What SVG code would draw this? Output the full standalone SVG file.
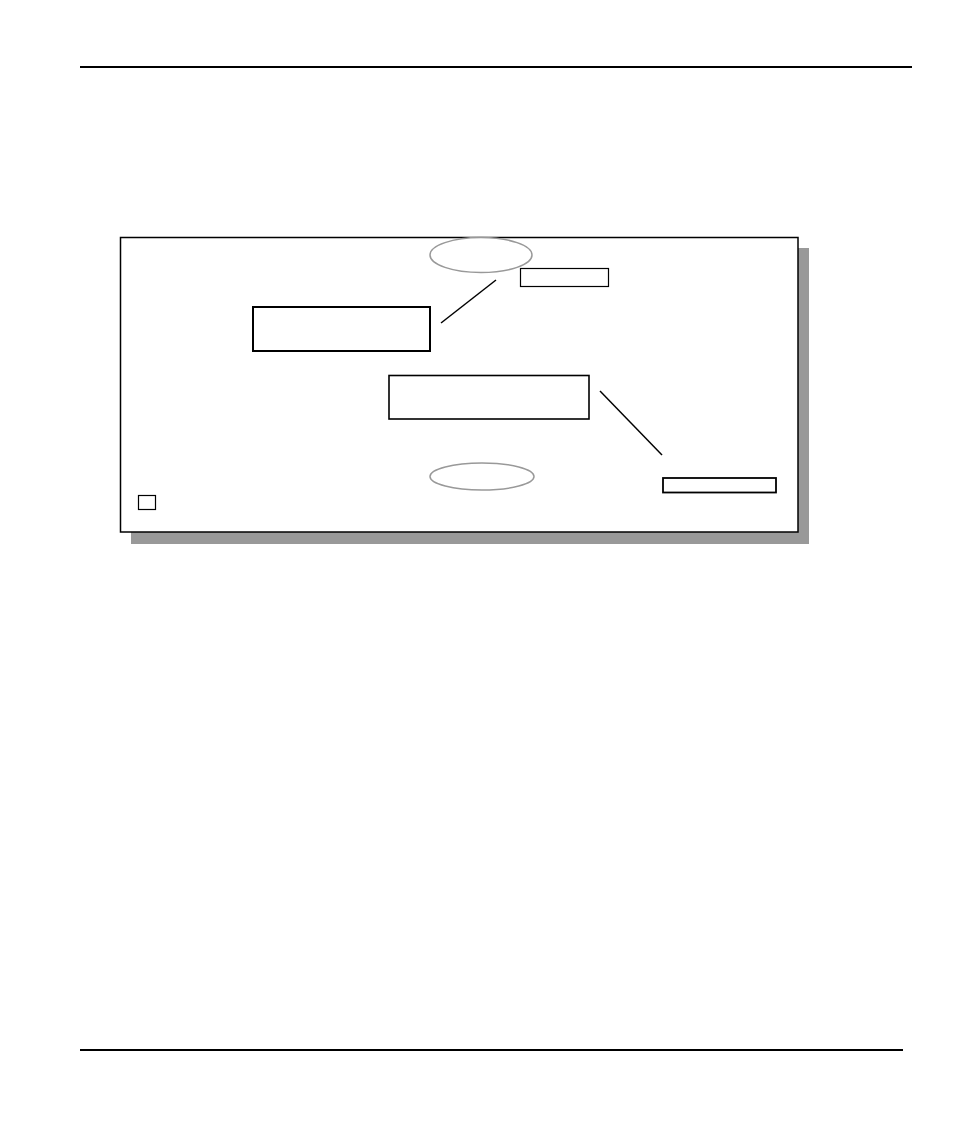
<svg xmlns="http://www.w3.org/2000/svg" width="954" height="1132" viewBox="0 0 954 1132">
<style>
.rule{stroke:#000;stroke-width:2}
.box{fill:#fff;stroke:#000}
.oval{fill:#fff;stroke:#999;stroke-width:1.5}
.conn{stroke:#000;stroke-width:1.5;fill:none}
</style>
<rect width="954" height="1132" fill="#fff"/>
<line class="rule" x1="80" y1="67" x2="912" y2="67"/>
<line class="rule" x1="80" y1="1050" x2="903" y2="1050"/>
<g id="frame">
<rect x="131" y="248" width="678" height="296" fill="#999"/>
<rect class="box" x="120.5" y="237.5" width="677.5" height="294.5" stroke-width="1.5"/>
</g>
<g id="oval-top"><ellipse class="oval" cx="481" cy="255" rx="51" ry="17.5"/></g>
<g id="label-top"><rect class="box" x="520.5" y="268.5" width="88" height="18" stroke-width="1.2"/></g>
<g id="box-left"><rect class="box" x="253" y="307" width="177" height="44" stroke-width="2"/></g>
<g id="box-center"><rect class="box" x="389" y="375.5" width="200" height="43.5" stroke-width="1.6"/></g>
<g id="oval-bottom"><ellipse class="oval" cx="482" cy="476.5" rx="52" ry="13.5"/></g>
<g id="label-bottom"><rect class="box" x="663" y="478" width="113" height="14.5" stroke-width="1.8"/></g>
<g id="small-square"><rect class="box" x="138.5" y="495.5" width="17" height="14" stroke-width="1.2"/></g>
<g id="connectors">
<line class="conn" x1="441" y1="323" x2="496" y2="280"/>
<line class="conn" x1="600" y1="391" x2="662" y2="455"/>
</g>
</svg>
